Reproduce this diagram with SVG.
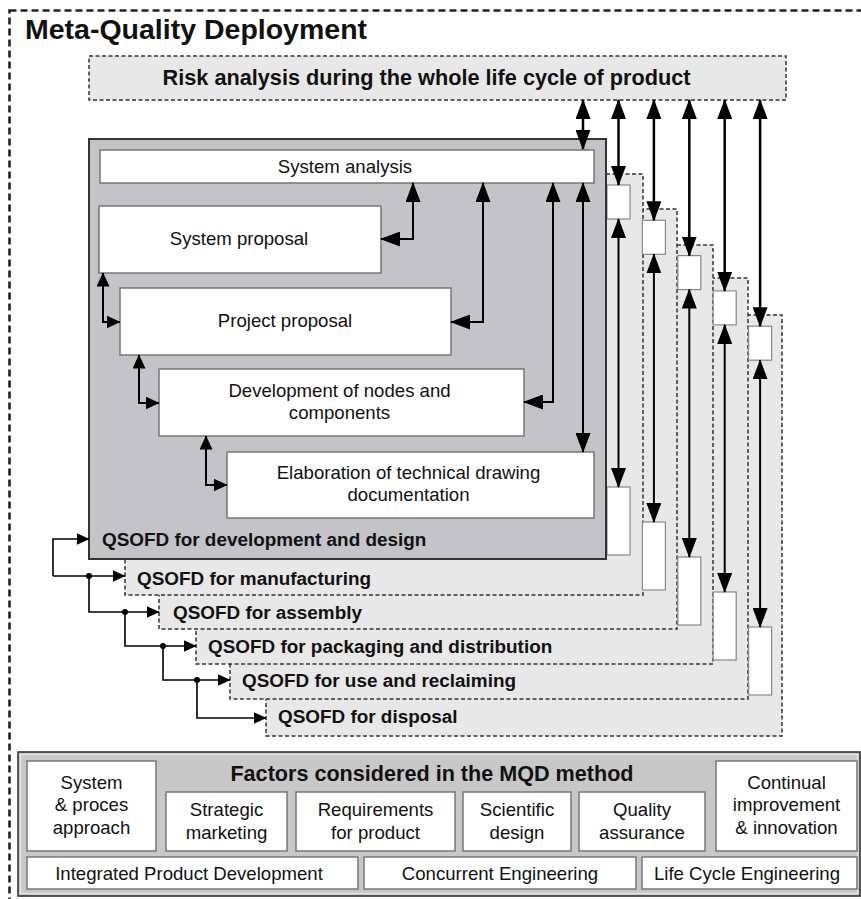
<svg xmlns="http://www.w3.org/2000/svg" width="861" height="899" viewBox="0 0 861 899">
<style>
text{font-family:"Liberation Sans",Arial,sans-serif;fill:#111}
.b{font-weight:bold}
.n{font-size:18.6px}
.q{font-size:18.9px;font-weight:bold}
.c{text-anchor:middle}
.lp{fill:#e8e8e8;stroke:#333;stroke-width:1.5;stroke-dasharray:4 2.5}
.wb{fill:#fff;stroke:#777;stroke-width:1.5}
.sb{fill:#fff;stroke:#888;stroke-width:1.2}
.ln{fill:none;stroke:#000;stroke-width:2}
.lb{fill:none;stroke:#000;stroke-width:2.5}
.ls{fill:none;stroke:#000;stroke-width:1.6}
</style>
<defs>
<marker id="ah" markerUnits="userSpaceOnUse" markerWidth="20" markerHeight="15" viewBox="0 0 20 15" refX="19" refY="7.5" orient="auto-start-reverse"><path d="M0,0 L20,7.5 L0,15 z" fill="#000"/></marker>
<marker id="am" markerUnits="userSpaceOnUse" markerWidth="14" markerHeight="13" viewBox="0 0 14 13" refX="13.5" refY="6.5" orient="auto-start-reverse"><path d="M0,0 L14,6.5 L0,13 z" fill="#000"/></marker>
<marker id="as" markerUnits="userSpaceOnUse" markerWidth="13" markerHeight="12" viewBox="0 0 13 12" refX="12.5" refY="6" orient="auto-start-reverse"><path d="M0,0 L13,6 L0,12 z" fill="#000"/></marker>
</defs>
<rect width="861" height="899" fill="#fff"/>
<g id="outer">
<rect x="9.5" y="10.5" width="880" height="920" fill="none" stroke="#222" stroke-width="2.6" stroke-dasharray="7 4"/>
<text x="25" y="39" class="b" font-size="28.5px">Meta-Quality Deployment</text>
</g>
<g id="risk">
<rect x="89" y="56" width="697" height="44" fill="#e8e8e8" stroke="#333" stroke-width="1.5" stroke-dasharray="4 2.5"/>
<text x="426.5" y="85" class="b c" font-size="21.7px">Risk analysis during the whole life cycle of product</text>
</g>
<g id="qsofd-disposal">
<rect class="lp" x="266" y="315" width="516" height="421"/>
<text x="278" y="723" class="q">QSOFD for disposal</text>
</g>
<g id="qsofd-use">
<rect class="lp" x="230" y="278" width="518" height="421"/>
<text x="242" y="687" class="q">QSOFD for use and reclaiming</text>
</g>
<g id="qsofd-packaging">
<rect class="lp" x="196" y="245" width="517" height="419"/>
<text x="208" y="653" class="q">QSOFD for packaging and distribution</text>
</g>
<g id="qsofd-assembly">
<rect class="lp" x="159" y="209" width="518" height="420"/>
<text x="173" y="619" class="q">QSOFD for assembly</text>
</g>
<g id="qsofd-manufacturing">
<rect class="lp" x="125" y="174" width="518" height="421"/>
<text x="137" y="585" class="q">QSOFD for manufacturing</text>
</g>
<g id="side-boxes">
<rect class="sb" x="607" y="185" width="23" height="34"/>
<rect class="sb" x="642.4" y="220.3" width="23" height="34"/>
<rect class="sb" x="677.8" y="255.6" width="23" height="34"/>
<rect class="sb" x="713.2" y="290.9" width="23" height="34"/>
<rect class="sb" x="748.6" y="326.2" width="23" height="34"/>
<rect class="sb" x="607" y="487" width="23" height="68"/>
<rect class="sb" x="642.4" y="522" width="23" height="68"/>
<rect class="sb" x="677.8" y="557" width="23" height="68"/>
<rect class="sb" x="713.2" y="592" width="23" height="68"/>
<rect class="sb" x="748.6" y="627" width="23" height="68"/>
</g>
<g id="qsofd-design">
<rect x="89" y="139" width="517" height="420" fill="#c4c3c8" stroke="#333" stroke-width="2"/>
<text x="102" y="546" class="q">QSOFD for development and design</text>
</g>
<g id="system-analysis">
<rect class="wb" x="100" y="150" width="494" height="33"/>
<text x="345" y="173" class="n c">System analysis</text>
</g>
<g id="system-proposal">
<rect class="wb" x="99" y="206" width="282" height="67"/>
<text x="239" y="245" class="n c">System proposal</text>
</g>
<g id="project-proposal">
<rect class="wb" x="120" y="288" width="331" height="67"/>
<text x="285" y="327" class="n c">Project proposal</text>
</g>
<g id="development">
<rect class="wb" x="159" y="369" width="365" height="67"/>
<text x="339.5" y="397" class="n c">Development of nodes and</text>
<text x="339.5" y="419" class="n c">components</text>
</g>
<g id="elaboration">
<rect class="wb" x="227" y="452" width="367" height="66"/>
<text x="408.5" y="479" class="n c">Elaboration of technical drawing</text>
<text x="408.5" y="501" class="n c">documentation</text>
</g>
<g id="connectors">
<path class="lb" d="M583,100 V149" marker-start="url(#ah)" marker-end="url(#ah)"/>
<path class="lb" d="M618.5,100 V185" marker-start="url(#ah)" marker-end="url(#ah)"/>
<path class="lb" d="M653.9,100 V220.3" marker-start="url(#ah)" marker-end="url(#ah)"/>
<path class="lb" d="M689.3,100 V255.6" marker-start="url(#ah)" marker-end="url(#ah)"/>
<path class="lb" d="M724.7,100 V290.9" marker-start="url(#ah)" marker-end="url(#ah)"/>
<path class="lb" d="M760.1,100 V326.2" marker-start="url(#ah)" marker-end="url(#ah)"/>
<path class="ln" d="M618.5,219 V487" marker-start="url(#ah)" marker-end="url(#ah)"/>
<path class="ln" d="M653.9,254.3 V522" marker-start="url(#ah)" marker-end="url(#ah)"/>
<path class="ln" d="M689.3,289.6 V557" marker-start="url(#ah)" marker-end="url(#ah)"/>
<path class="ln" d="M724.7,324.9 V592" marker-start="url(#ah)" marker-end="url(#ah)"/>
<path class="ln" d="M760.1,360.2 V627" marker-start="url(#ah)" marker-end="url(#ah)"/>
<path class="ln" d="M583,183 V452" marker-start="url(#ah)" marker-end="url(#ah)"/>
<path class="ln" d="M524,402 H553 V183" marker-start="url(#ah)" marker-end="url(#ah)"/>
<path class="ln" d="M451,322 H483 V183" marker-start="url(#ah)" marker-end="url(#ah)"/>
<path class="ln" d="M381,239 H413 V183" marker-start="url(#ah)" marker-end="url(#ah)"/>
<path class="ln" d="M103,273 V322 H120" marker-start="url(#am)" marker-end="url(#am)"/>
<path class="ln" d="M139,355 V403 H159" marker-start="url(#am)" marker-end="url(#am)"/>
<path class="ln" d="M206,436 V485 H227" marker-start="url(#am)" marker-end="url(#am)"/>
<path class="ls" d="M53,576 V539 H89" marker-end="url(#as)"/>
<path class="ls" d="M53,576 H125" marker-end="url(#as)"/>
<path class="ls" d="M89,576 V612 H159" marker-end="url(#as)"/>
<path class="ls" d="M125,612 V646 H196" marker-end="url(#as)"/>
<path class="ls" d="M163,646 V680 H230" marker-end="url(#as)"/>
<path class="ls" d="M197,680 V718 H266" marker-end="url(#as)"/>
<circle cx="89" cy="576" r="3" fill="#000"/>
<circle cx="125" cy="612" r="3" fill="#000"/>
<circle cx="163" cy="646" r="3" fill="#000"/>
<circle cx="197" cy="680" r="3" fill="#000"/>
</g>
<g id="factors">
<rect x="18" y="752" width="842" height="144" fill="#c8c8c8" stroke="#333" stroke-width="1.6"/>
<rect x="20.5" y="754.5" width="837" height="139" fill="none" stroke="#e4e4e4" stroke-width="1.2"/>
<text x="432" y="781" class="b c" font-size="21.6px">Factors considered in the MQD method</text>
</g>
<g id="f-system">
<rect class="wb" x="27" y="761" width="129" height="90"/>
<text x="91.5" y="789" class="n c">System</text>
<text x="91.5" y="811" class="n c">&amp; proces</text>
<text x="91.5" y="834" class="n c">approach</text>
</g>
<g id="f-strategic">
<rect class="wb" x="166" y="792" width="121" height="59"/>
<text x="226.5" y="816" class="n c">Strategic</text>
<text x="226.5" y="839" class="n c">marketing</text>
</g>
<g id="f-requirements">
<rect class="wb" x="296" y="792" width="159" height="59"/>
<text x="375.5" y="816" class="n c">Requirements</text>
<text x="375.5" y="839" class="n c">for product</text>
</g>
<g id="f-scientific">
<rect class="wb" x="463" y="792" width="108" height="59"/>
<text x="517" y="816" class="n c">Scientific</text>
<text x="517" y="839" class="n c">design</text>
</g>
<g id="f-quality">
<rect class="wb" x="579" y="792" width="126" height="59"/>
<text x="642" y="816" class="n c">Quality</text>
<text x="642" y="839" class="n c">assurance</text>
</g>
<g id="f-continual">
<rect class="wb" x="716" y="761" width="141" height="90"/>
<text x="786.5" y="789" class="n c">Continual</text>
<text x="786.5" y="811" class="n c">improvement</text>
<text x="786.5" y="834" class="n c">&amp; innovation</text>
</g>
<g id="f-ipd">
<rect class="wb" x="27" y="857" width="331" height="32"/>
<text x="189" y="880" class="n c">Integrated Product Development</text>
</g>
<g id="f-ce">
<rect class="wb" x="364" y="857" width="272" height="32"/>
<text x="500" y="880" class="n c">Concurrent Engineering</text>
</g>
<g id="f-lce">
<rect class="wb" x="642" y="857" width="215" height="32"/>
<text x="747" y="880" class="n c">Life Cycle Engineering</text>
</g>
</svg>
